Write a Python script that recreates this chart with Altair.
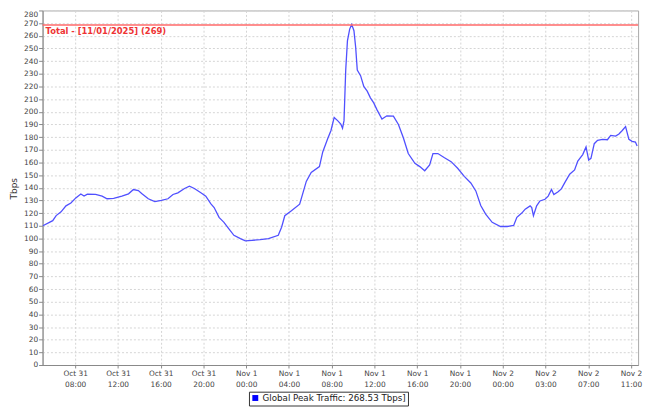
import altair as alt
import pandas as pd

# x is a slot position: each labelled tick is 4 slots apart
slot = [
    -3.02, -2.10, -1.78, -1.32, -0.86, -0.40, 0.06, 0.53, 0.83, 1.14,
    1.91, 2.52, 2.98, 3.60, 4.37, 4.99, 5.45, 5.91, 6.22, 6.84,
    7.45, 8.06, 8.68, 9.15, 9.61, 10.23, 10.69, 11.15, 11.76, 12.22,
    12.68, 13.00, 13.46, 13.92, 14.38, 14.85, 15.46, 15.92, 16.54, 17.30,
    18.08, 19.00, 19.31, 19.61, 20.23, 21.00, 21.31, 21.62, 22.08, 22.85,
    23.16, 23.62, 23.93, 24.23, 24.55, 24.85, 25.01, 25.15, 25.31, 25.47,
    25.68, 25.87, 26.08, 26.24, 26.39, 26.70, 27.00, 27.32, 27.62, 27.93,
    28.24, 28.70, 29.16, 29.77, 30.24, 30.70, 31.16, 31.78, 32.24, 32.70,
    33.16, 33.47, 33.93, 34.55, 35.17, 35.78, 36.40, 37.01, 37.48, 37.94,
    38.40, 39.01, 39.79, 40.40, 41.02, 41.32, 41.78, 42.10, 42.56, 42.71,
    42.87, 43.17, 43.48, 43.95, 44.25, 44.56, 44.78, 45.18, 45.48, 45.79,
    46.26, 46.72, 47.02, 47.48, 47.79, 48.04, 48.25, 48.56, 48.87, 49.33,
    49.79, 50.10, 50.56, 50.87, 51.18, 51.49, 51.80, 52.10, 52.41, 52.57,
]
tbps = [
    110, 114, 118, 121, 125.7, 128, 132, 135, 133.4, 135,
    134.7, 133.4, 131.3, 131.6, 133.4, 135.2, 138.6, 137.8, 135.5, 131.3,
    129, 130, 131.3, 134.7, 136, 139.4, 141.2, 139.4, 136, 133.4,
    127.5, 124.4, 116.6, 112.7, 107.6, 102.4, 99.8, 98, 98.5, 99,
    99.8, 102.4, 108.8, 117.9, 121.8, 127, 136, 145, 152, 156.7,
    168.3, 178.7, 185.2, 195.5, 193, 190.3, 187, 193, 233, 256,
    265.3, 269, 264, 251, 233, 228.5, 220, 216.3, 211, 207,
    201.5, 194.2, 196.8, 196.5, 190, 179.5, 167, 159.3, 156.7, 153.4,
    158, 167, 167, 163.7, 160.6, 155.4, 149, 143.8, 137.5, 126,
    119.2, 112.7, 109.4, 109.4, 110.2, 116.6, 120, 123.1, 125.7, 124.4,
    117.9, 125.7, 129.6, 130.9, 133.4, 138.6, 134.7, 136.8, 139.1, 143.8,
    150.7, 154.1, 161.1, 166.2, 172.2, 161.9, 163.2, 174.8, 177.4, 178.2,
    177.9, 181.3, 180.8, 182.5, 185.2, 188.3, 178.2, 176.6, 176.1, 173,
]

tick_dates = ["Oct 31", "Oct 31", "Oct 31", "Oct 31", "Nov 1", "Nov 1", "Nov 1",
              "Nov 1", "Nov 1", "Nov 1", "Nov 2", "Nov 2", "Nov 2", "Nov 2"]
tick_times = ["08:00", "12:00", "16:00", "20:00", "00:00", "04:00", "08:00",
              "12:00", "16:00", "20:00", "00:00", "03:00", "07:00", "11:00"]
tick_slots = [4 * i for i in range(len(tick_dates))]
y_ticks = list(range(0, 281, 10))

series_name = "Global Peak Traffic: 268.53 Tbps]"
total_value = 268.53
total_label = "Total - [11/01/2025] (269)"

df = pd.DataFrame({"slot": slot, "tbps": tbps, "series": series_name})

pairs = ",".join(f"['{d}','{t}']" for d, t in zip(tick_dates, tick_times))
label_expr = f"[{pairs}][round(datum.value / 4)]"

font = "DejaVu Sans"
grid = "#d4d4d4"
x_scale = alt.Scale(domain=[-3.05, 52.66], nice=False, zero=False)
y_scale = alt.Scale(domain=[0, 280], nice=False)

x_axis = alt.Axis(
    values=tick_slots,
    labelExpr=label_expr,
    title=None,
    labelFont=font,
    labelFontSize=7.5,
    labelColor="#444444",
    labelLineHeight=11,
    labelPadding=2,
    labelOverlap=False,
    tickSize=3,
    tickColor="#888888",
    domainColor="#888888",
    gridColor=grid,
    gridDash=[2, 2],
)
y_axis = alt.Axis(
    values=y_ticks,
    tickCount=29,
    title="Tbps",
    titleFont=font,
    titleFontSize=9,
    titleFontWeight="normal",
    titleColor="#333333",
    titleAngle=-90,
    titleX=-29,
    titleY=180,
    titleAlign="center",
    titleBaseline="middle",
    labelFont=font,
    labelFontSize=7.5,
    labelColor="#444444",
    labelPadding=1,
    labelOverlap=False,
    labelBaseline={"condition": {"test": "datum.value >= 280", "value": "top"}, "value": "middle"},
    tickSize=4,
    tickColor="#888888",
    domainColor="#888888",
    gridColor=grid,
    gridDash=[2, 2],
)

line = alt.Chart(df).mark_line(strokeWidth=1.3).encode(
    x=alt.X("slot:Q", scale=x_scale, axis=x_axis),
    y=alt.Y("tbps:Q", scale=y_scale, axis=y_axis),
    color=alt.Color(
        "series:N",
        scale=alt.Scale(range=["#5050ff"]),
        legend=alt.Legend(
            title=None,
            orient="none",
            legendX=209,
            legendY=386,
            symbolType="square",
            symbolSize=36,
            symbolFillColor="#0000ff",
            symbolStrokeColor="#0000ff",
            symbolStrokeWidth=0,
            labelFont=font,
            labelFontSize=8.8,
            labelColor="#222222",
            padding=2,
            strokeColor="#333333",
            labelOffset=3,
        ),
    ),
)

rule = alt.Chart(pd.DataFrame({"total": [total_value]})).mark_rule(
    color="#ff6a6a", strokeWidth=1.5
).encode(y=alt.Y("total:Q", scale=y_scale, axis=y_axis))

rule_text = alt.Chart(
    pd.DataFrame({"total": [total_value], "slot": [-3.05], "label": [total_label]})
).mark_text(
    align="left", baseline="top", dx=3, dy=2, color="#ee3333",
    font=font, fontSize=8.5, fontWeight="bold",
).encode(
    x=alt.X("slot:Q", scale=x_scale, axis=x_axis),
    y=alt.Y("total:Q", scale=y_scale, axis=y_axis),
    text="label:N",
)

chart = (
    alt.layer(line, rule, rule_text)
    .properties(
        width=603,
        height=359,
        autosize=alt.AutoSizeParams(type="none"),
        padding={"left": 35, "top": 0, "right": 7, "bottom": 40},
        background="white",
    )
    .configure_view(stroke="#aaaaaa", strokeWidth=1)
)

chart.save("out.html", embed_options={"renderer": "svg", "actions": False})
